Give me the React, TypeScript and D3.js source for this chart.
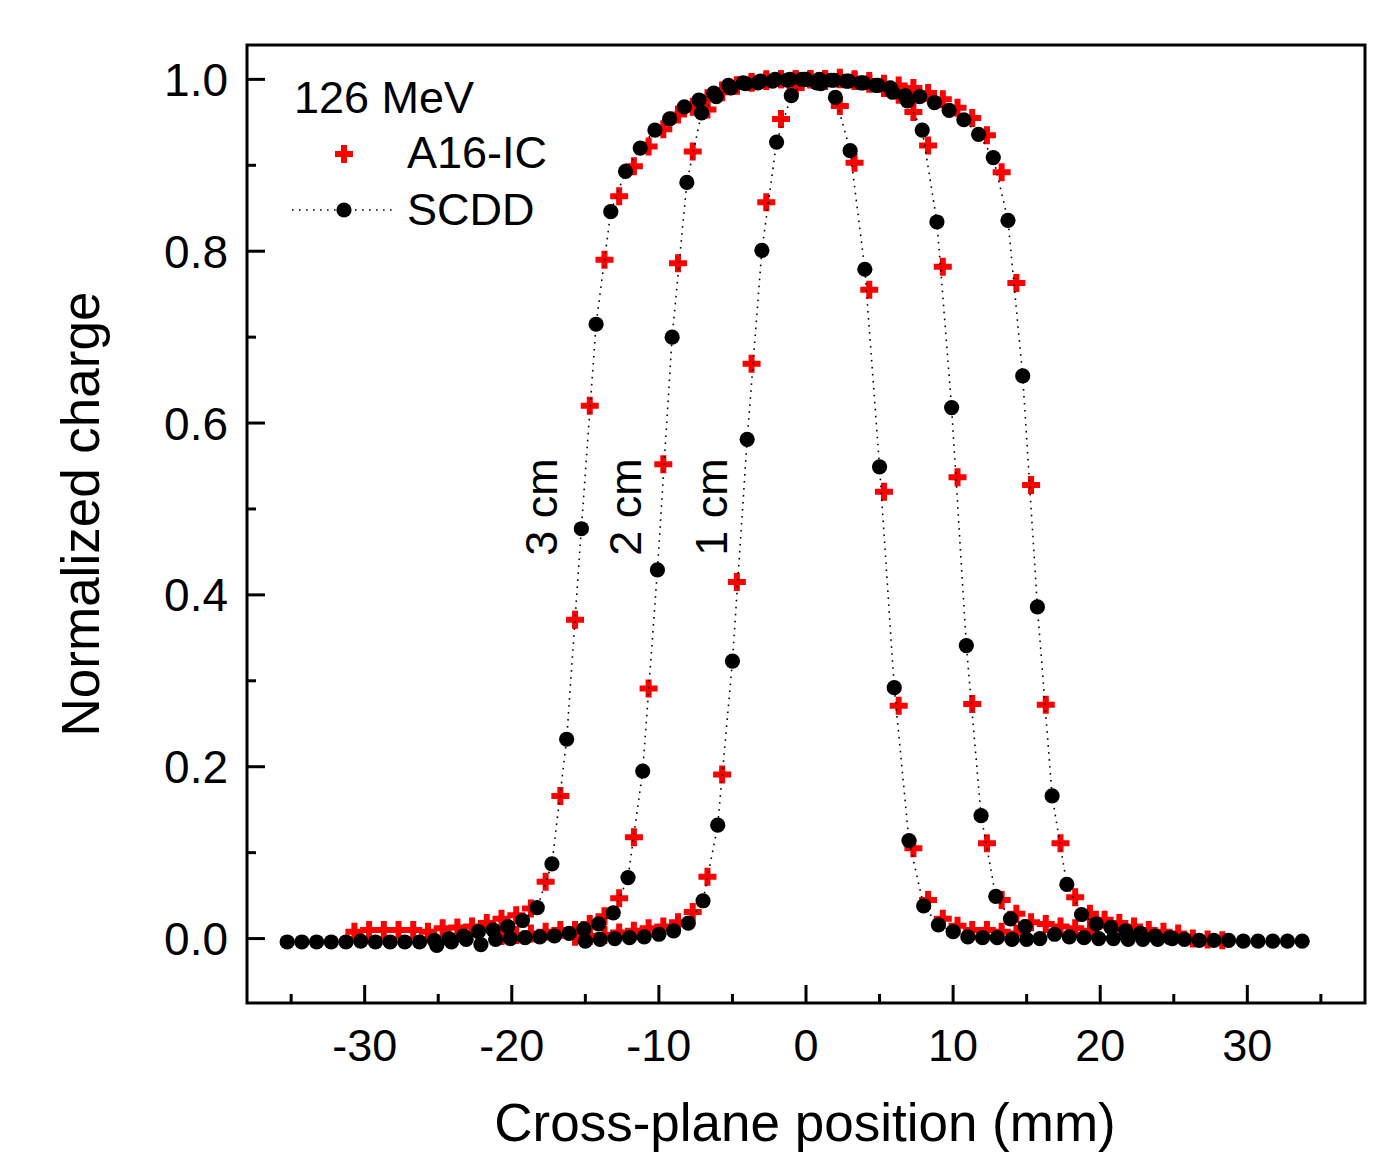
import React from 'react';
import * as d3 from 'd3';

// SCDD (black dots), three depths
const scdd1X = [-15, -14, -13, -12, -11, -10, -9, -8, -7, -6,
  -5, -4, -3, -2, -1, 0, 1, 2, 3, 4, 5,
  6, 7, 8, 9, 10, 11, 12, 13, 14, 15];
const scdd1Y = [-0.003, -0.001, 0.000, 0.001, 0.002, 0.005, 0.009, 0.018, 0.044, 0.132,
  0.323, 0.581, 0.801, 0.927, 0.981, 1.000, 0.995, 0.979, 0.917, 0.779, 0.549,
  0.292, 0.114, 0.038, 0.016, 0.008, 0.002, 0.001, 0.001, -0.001, -0.001];

const scdd2X = [-25.1, -24.1, -23.1, -22.1, -21.1, -20.1, -19.1, -18.1, -17.1, -16.1,
  -15.1, -14.1, -13.1, -12.1, -11.1, -10.1, -9.1, -8.1, -7.1,
  -6.1, -5.1, -4.1, -3.1, -2.1, -1.1, -0.1, 0.9, 1.9, 2.9, 3.9, 4.9, 5.9, 6.9,
  7.9, 8.9, 9.9, 10.9, 11.9, 12.9, 13.9, 14.9, 15.9,
  16.9, 17.9, 18.9, 19.9, 20.9, 21.9, 22.9, 23.9, 24.9];
const scdd2Y = [-0.008, -0.004, -0.001, -0.007, -0.001, 0.000, 0.001, 0.002, 0.003, 0.006,
  0.011, 0.017, 0.030, 0.071, 0.195, 0.429, 0.700, 0.880, 0.961,
  0.980, 0.990, 0.995, 0.998, 1.000, 1.000, 1.000, 1.000, 0.999, 0.998, 0.996, 0.993, 0.985, 0.975,
  0.941, 0.834, 0.618, 0.341, 0.143, 0.049, 0.023, 0.014, 0.000,
  0.005, 0.002, 0.001, 0.000, 0.000, -0.001, -0.001, -0.001, 0.000];

const scdd3X = [-35.27, -34.27, -33.27, -32.27, -31.27, -30.27, -29.27, -28.27, -27.27, -26.27,
  -25.27, -24.27, -23.27, -22.27, -21.27, -20.27, -19.27, -18.27, -17.27,
  -16.27, -15.27, -14.27, -13.27, -12.27, -11.27, -10.27, -9.27, -8.27, -7.27, -6.27, -5.27, -4.27, -3.27, -2.27, -1.27, -0.27,
  0.73, 1.73, 2.73, 3.73, 4.73, 5.73, 6.73, 7.73, 8.73, 9.73, 10.73, 11.73, 12.73, 13.73, 14.73, 15.73, 16.73, 17.73, 18.73, 19.73,
  20.73, 21.73, 22.73, 23.73, 24.73, 25.73, 26.73, 27.73, 28.73, 29.73, 30.73, 31.73, 32.73, 33.73];
const scdd3Y = [-0.004, -0.004, -0.004, -0.004, -0.004, -0.003, -0.004, -0.004, -0.004, -0.004,
  -0.002, 0.000, 0.003, 0.008, 0.010, 0.014, 0.021, 0.036, 0.087,
  0.232, 0.477, 0.715, 0.846, 0.893, 0.920, 0.941, 0.954, 0.968, 0.976, 0.984, 0.993, 0.996, 0.996, 0.998, 0.999, 1.000,
  0.996, 0.999, 0.998, 0.996, 0.993, 0.990, 0.981, 0.980, 0.973, 0.964, 0.953, 0.936, 0.909, 0.836, 0.655, 0.386, 0.166, 0.063, 0.028, 0.017,
  0.013, 0.009, 0.006, 0.003, 0.001, -0.001, -0.002, -0.002, -0.002, -0.003, -0.003, -0.003, -0.003, -0.003];

// A16-IC (red crosses), three depths
const a16_1X = [-15.7, -14.7, -13.7, -12.7, -11.7, -10.7, -9.7, -8.7, -7.7, -6.7,
  -5.7, -4.7, -3.7, -2.7, -1.7, -0.7, 0.3, 1.3, 2.3, 3.3,
  4.3, 5.3, 6.3, 7.3, 8.3, 9.3, 10.3, 11.3, 12.3, 13.3, 14.3];
const a16_1Y = [0.002, 0.003, 0.004, 0.007, 0.009, 0.012, 0.014, 0.019, 0.031, 0.072,
  0.191, 0.415, 0.669, 0.857, 0.954, 0.990, 1.000, 0.998, 0.969, 0.903,
  0.755, 0.520, 0.271, 0.105, 0.045, 0.023, 0.015, 0.010, 0.010, 0.008, 0.006];

const a16_2X = [-20.7, -19.7, -18.7, -17.7, -16.7, -15.7, -14.7, -13.7, -12.7, -11.7,
  -10.7, -9.7, -8.7, -7.7, -6.7, -5.7, -4.7, -3.7, -2.7, -1.7,
  -0.7, 0.3, 1.3, 2.3, 3.3, 4.3, 5.3, 6.3, 7.3, 8.3,
  9.3, 10.3, 11.3, 12.3, 13.3, 14.3, 15.3, 16.3, 17.3, 18.3, 19.3];
const a16_2Y = [0.003, 0.004, 0.006, 0.008, 0.010, 0.010, 0.017, 0.026, 0.047, 0.118,
  0.291, 0.552, 0.786, 0.916, 0.965, 0.985, 0.993, 0.997, 1.000, 1.000,
  1.000, 1.000, 1.000, 1.000, 0.998, 0.995, 0.990, 0.982, 0.962, 0.923,
  0.782, 0.537, 0.273, 0.111, 0.045, 0.029, 0.019, 0.017, 0.014, 0.012, 0.009];

const a16_3X = [-30.7, -29.7, -28.7, -27.7, -26.7, -25.7, -24.7, -23.7, -22.7, -21.7,
  -20.7, -19.7, -18.7, -17.7, -16.7, -15.7, -14.7, -13.7, -12.7, -11.7,
  -10.7, -9.7, -8.7, -7.7, -6.7, -5.7, -4.7, -3.7, -2.7, -1.7,
  -0.7, 0.3, 1.3, 2.3, 3.3, 4.3, 5.3, 6.3, 7.3, 8.3,
  9.3, 10.3, 11.3, 12.3, 13.3, 14.3, 15.3, 16.3, 17.3, 18.3,
  19.3, 20.3, 21.3, 22.3, 23.3, 24.3, 25.3, 26.3, 27.3, 28.3];
const a16_3Y = [0.008, 0.010, 0.010, 0.010, 0.010, 0.008, 0.012, 0.013, 0.014, 0.018,
  0.023, 0.027, 0.035, 0.066, 0.166, 0.371, 0.620, 0.790, 0.864, 0.899,
  0.922, 0.942, 0.959, 0.968, 0.978, 0.987, 0.993, 0.996, 0.998, 1.000,
  1.000, 1.000, 1.000, 1.002, 1.000, 0.998, 0.995, 0.993, 0.990, 0.984,
  0.977, 0.967, 0.955, 0.935, 0.892, 0.763, 0.528, 0.272, 0.111, 0.048,
  0.029, 0.022, 0.018, 0.014, 0.010, 0.008, 0.006, 0.000, -0.001, -0.002];

const xTicks = [-30, -20, -10, 0, 10, 20, 30];
const xMinor = [-35, -25, -15, -5, 5, 15, 25, 35];
const yTicks = [0, 0.2, 0.4, 0.6, 0.8, 1.0];
const yMinor = [0.1, 0.3, 0.5, 0.7, 0.9];
const depthLabels = ['3 cm', '2 cm', '1 cm'];

const font = "'Liberation Sans', Arial, Helvetica, sans-serif";

export default function App() {
  const width = 1396, height = 1153;
  const left = 247, right = 1365, top = 45, bottom = 1003;

  const x = d3.scaleLinear().domain([-38, 38]).range([left, right]);
  const y = d3.scaleLinear().domain([-0.075, 1.04]).range([bottom, top]);

  const zip = (xs: number[], ys: number[]) => xs.map((v, i) => [v, ys[i]] as [number, number]);
  const scdd = [zip(scdd1X, scdd1Y), zip(scdd2X, scdd2Y), zip(scdd3X, scdd3Y)];
  const a16 = [zip(a16_1X, a16_1Y), zip(a16_2X, a16_2Y), zip(a16_3X, a16_3Y)];

  const line = d3.line<[number, number]>().x(d => x(d[0])).y(d => y(d[1]));
  const cross = d3.symbol().type(d3.symbolCross).size(180)() as string;

  const dotted = { fill: 'none', stroke: '#000', strokeWidth: 1.6, strokeDasharray: '1.6 5.4' };

  // depth label positions, next to the rising flank of each curve
  const labelX = [x(-16.9), x(-11.2), x(-5.4)];

  return (
    <svg width={width} height={height} style={{ position: 'absolute', left: 0, top: 0, background: '#fff' }}
      fontFamily={font}>
      <rect x={0} y={0} width={width} height={height} fill="#fff" />

      {/* red crosses */}
      {a16.map((s, k) => (
        <g key={'a' + k}>
          {s.map((d, i) => (
            <path key={i} d={cross} transform={`translate(${x(d[0])},${y(d[1])})`} fill="#ff0000" />
          ))}
        </g>
      ))}

      {/* dotted lines */}
      {scdd.map((s, k) => (
        <path key={'l' + k} d={line(s) as string} {...dotted} />
      ))}

      {/* black dots */}
      {scdd.map((s, k) => (
        <g key={'s' + k}>
          {s.map((d, i) => (
            <circle key={i} cx={x(d[0])} cy={y(d[1])} r={7.6} fill="#000" />
          ))}
        </g>
      ))}

      {/* frame */}
      <rect x={left} y={top} width={right - left} height={bottom - top} fill="none" stroke="#000" strokeWidth={3} />

      {/* x axis ticks */}
      {xTicks.map(t => (
        <g key={'xt' + t}>
          <line x1={x(t)} x2={x(t)} y1={bottom} y2={bottom - 18} stroke="#000" strokeWidth={3} />
          <text x={x(t)} y={1061} textAnchor="middle" fontSize={45}>{String(t)}</text>
        </g>
      ))}
      {xMinor.map(t => (
        <line key={'xm' + t} x1={x(t)} x2={x(t)} y1={bottom} y2={bottom - 9} stroke="#000" strokeWidth={3} />
      ))}

      {/* y axis ticks */}
      {yTicks.map(t => (
        <g key={'yt' + t}>
          <line x1={left} x2={left + 18} y1={y(t)} y2={y(t)} stroke="#000" strokeWidth={3} />
          <text x={228} y={y(t)} dy="0.36em" textAnchor="end" fontSize={46}>{t.toFixed(1)}</text>
        </g>
      ))}
      {yMinor.map(t => (
        <line key={'ym' + t} x1={left} x2={left + 9} y1={y(t)} y2={y(t)} stroke="#000" strokeWidth={3} />
      ))}

      {/* axis titles */}
      <text x={805} y={1141} textAnchor="middle" fontSize={53}>Cross-plane position (mm)</text>
      <text transform="translate(99,514) rotate(-90)" textAnchor="middle" fontSize={53}>Normalized charge</text>

      {/* depth labels */}
      {depthLabels.map((t, i) => (
        <text key={t} transform={`translate(${labelX[i]},507) rotate(-90)`} textAnchor="middle" fontSize={45}>{t}</text>
      ))}

      {/* legend */}
      <text x={294} y={113} fontSize={45}>126 MeV</text>
      <path d={cross} transform="translate(344,154)" fill="#ff0000" />
      <text x={407} y={168} fontSize={45}>A16-IC</text>
      <line x1={292} x2={396} y1={210} y2={210} {...dotted} />
      <circle cx={344} cy={210} r={7.6} fill="#000" />
      <text x={407} y={225} fontSize={45}>SCDD</text>
    </svg>
  );
}
